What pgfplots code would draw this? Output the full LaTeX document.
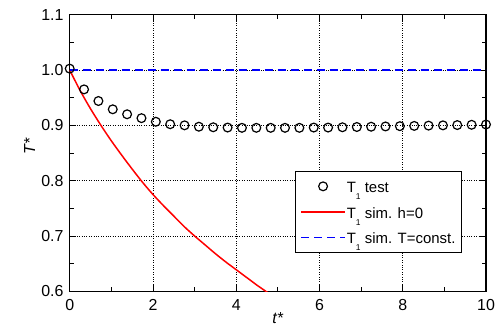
\documentclass[border=0pt]{standalone}
\usepackage{fontspec}
\setmainfont{Liberation Sans}
\usepackage{pgfplots}
\pgfplotsset{compat=1.18}
\newcommand\sub[1]{\raisebox{-6.6bp}{\fontsize{8.5}{9}\selectfont #1}}
\pgfplotsset{
  markleg/.style={legend image code/.code={\draw[##1] plot coordinates {(22bp,0bp)};}},
  lineleg/.style={legend image code/.code={\draw[##1, line width=1.5bp] (0bp,0bp) -- (44bp,0bp);}},
}
\begin{document}
\begin{tikzpicture}
\begin{axis}[
  at={(0,0)}, anchor=south west,
  scale only axis, width=416.3bp, height=276.6bp,
  xmin=0, xmax=10, ymin=0.6, ymax=1.1,
  xtick={0,2,4,6,8,10}, ytick={0.6,0.7,0.8,0.9,1.0,1.1},
  minor x tick num=1, minor y tick num=1,
  major tick length=6bp, minor tick length=4bp,
  tick style={black, line width=0.8bp},
  axis line style={black, line width=1.3bp},
  grid=major,
  major grid style={black, dotted, line width=0.6bp},
  /pgf/number format/assume math mode=true,
  ticklabel style={font=\fontsize{16}{18}\selectfont},
  yticklabel style={/pgf/number format/fixed, /pgf/number format/fixed zerofill, /pgf/number format/precision=1, xshift=-2.7bp},
  xticklabel style={yshift=-5bp},
  xlabel={\textit{t*}}, ylabel={\textit{T*}},
  label style={font=\fontsize{16}{18}\selectfont},
  xlabel style={at={(axis description cs:0.5,-0.0976)}, anchor=center},
  ylabel style={at={(axis description cs:-0.0961,0.525)}, anchor=center},
  legend style={at={(0.541,0.435)}, anchor=north west, draw=black, line width=0.8bp, fill=white,
    font=\fontsize{15}{17}\selectfont, inner xsep=5bp, inner ysep=2.2bp, row sep=0bp,
    nodes={inner xsep=1bp, inner ysep=1bp, text height=18.4bp, text depth=5.1bp}},
  legend cell align=left,
]
\addplot[only marks, mark=o, mark size=4.4bp, black, mark options={line width=1.2bp}, markleg]
 table[row sep=\\]{
 x y\\
 0 1.0025\\
 0.345 0.965\\
 0.690 0.944\\
 1.034 0.929\\
 1.379 0.920\\
 1.724 0.913\\
 2.069 0.9065\\
 2.414 0.902\\
 2.759 0.900\\
 3.103 0.8975\\
 3.448 0.8965\\
 3.793 0.896\\
 4.138 0.8955\\
 4.483 0.8955\\
 4.828 0.8955\\
 5.172 0.8955\\
 5.517 0.8955\\
 5.862 0.896\\
 6.207 0.896\\
 6.552 0.8965\\
 6.897 0.897\\
 7.241 0.8975\\
 7.586 0.898\\
 7.931 0.8985\\
 8.276 0.899\\
 8.621 0.8995\\
 8.966 0.900\\
 9.310 0.9005\\
 9.655 0.901\\
 10.0 0.9015\\
 };
\addlegendentry{T\sub{1} test}
\addplot[red, line width=1.5bp, smooth, lineleg]
 coordinates {(0,1.000) (0.25,0.963) (0.5,0.930) (0.75,0.900) (1.0,0.872) (1.25,0.846)
 (1.5,0.821) (1.75,0.797) (2.0,0.775) (2.25,0.755) (2.5,0.736) (2.75,0.717) (3.0,0.700)
 (3.25,0.684) (3.5,0.668) (3.75,0.653) (4.0,0.639) (4.25,0.625) (4.5,0.611) (4.75,0.598)};
\addlegendentry{T\sub{1} sim. h=0}
\addplot[blue, line width=1.5bp, dash pattern=on 8bp off 5bp, lineleg]
 coordinates {(0,1.0) (10,1.0)};
\addlegendentry{T\sub{1} sim. T=const.}
\end{axis}
\pgfresetboundingbox
\path (-69.7bp,-40.7bp) rectangle (431.3bp,291.3bp);
\end{tikzpicture}
\end{document}
